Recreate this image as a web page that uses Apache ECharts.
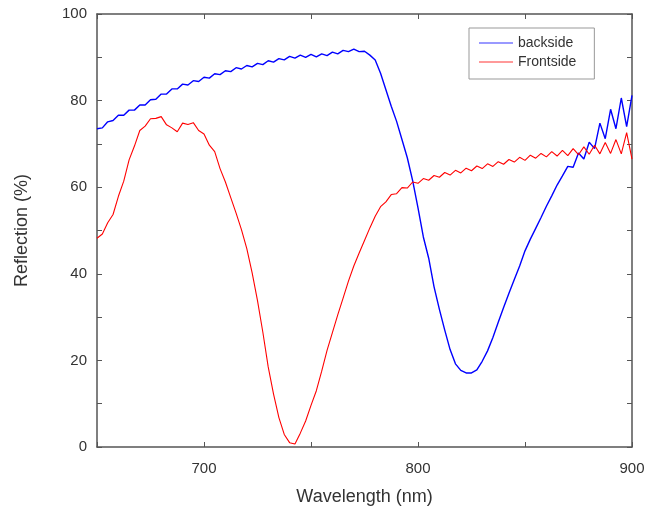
<!DOCTYPE html>
<html>
<head>
<meta charset="utf-8">
<script src="https://cdn.jsdelivr.net/npm/echarts@6/dist/echarts.min.js"></script>
<style>
  html, body { margin: 0; padding: 0; background: #fff; }
  #main { width: 651px; height: 516px; }
</style>
</head>
<body>
<div id="main"></div>
<script>
// wavelength (nm), read every 2.5 nm
var wavelength = [
  650, 652.5, 655, 657.5, 660, 662.5, 665, 667.5, 670, 672.5,
  675, 677.5, 680, 682.5, 685, 687.5, 690, 692.5, 695, 697.5,
  700, 702.5, 705, 707.5, 710, 712.5, 715, 717.5, 720, 722.5,
  725, 727.5, 730, 732.5, 735, 737.5, 740, 742.5, 745, 747.5,
  750, 752.5, 755, 757.5, 760, 762.5, 765, 767.5, 770, 772.5,
  775, 777.5, 780, 782.5, 785, 787.5, 790, 792.5, 795, 797.5,
  800, 802.5, 805, 807.5, 810, 812.5, 815, 817.5, 820, 822.5,
  825, 827.5, 830, 832.5, 835, 837.5, 840, 842.5, 845, 847.5,
  850, 852.5, 855, 857.5, 860, 862.5, 865, 867.5, 870, 872.5,
  875, 877.5, 880, 882.5, 885, 887.5, 890, 892.5, 895, 897.5, 900
];

// Reflection (%) for each wavelength
var backside = [
  73.5, 73.7, 75.1, 75.4, 76.6, 76.6, 77.8, 77.8, 79.0, 79.0,
  80.2, 80.3, 81.5, 81.5, 82.7, 82.7, 83.8, 83.6, 84.6, 84.4,
  85.4, 85.2, 86.2, 86.0, 86.9, 86.7, 87.6, 87.3, 88.1, 87.8,
  88.6, 88.3, 89.2, 88.9, 89.7, 89.4, 90.2, 89.8, 90.5, 90.0,
  90.7, 90.1, 90.8, 90.4, 91.2, 90.8, 91.6, 91.3, 91.9, 91.3,
  91.4, 90.5, 89.4, 86.3, 82.5, 78.7, 75.2, 71.0, 66.8, 61.5,
  55.2, 48.5, 43.6, 37.0, 31.8, 27.0, 22.5, 19.2, 17.7, 17.1,
  17.1, 17.8, 19.8, 22.2, 25.3, 28.8, 32.2, 35.5, 38.7, 41.8,
  45.3, 48.0, 50.5, 53.0, 55.6, 58.0, 60.5, 62.6, 64.8, 64.6,
  67.9, 66.5, 70.4, 68.9, 74.8, 71.2, 78.0, 73.5, 80.6, 74.0, 81.2
];

var frontside = [
  48.2, 49.2, 51.8, 53.7, 57.9, 61.4, 66.3, 69.5, 73.1, 74.1,
  75.8, 75.9, 76.3, 74.4, 73.7, 72.8, 74.8, 74.5, 74.9, 73.1,
  72.3, 69.7, 68.2, 64.3, 61.2, 57.6, 54.0, 50.2, 45.8, 40.2,
  33.8, 26.5, 18.5, 12.2, 6.8, 2.9, 1.0, 0.7, 3.2, 6.0,
  9.6, 13.0, 17.5, 22.3, 26.4, 30.5, 34.4, 38.3, 41.8, 44.8,
  47.7, 50.6, 53.3, 55.5, 56.6, 58.3, 58.5, 59.9, 59.8, 61.2,
  60.9, 62.0, 61.6, 62.7, 62.3, 63.4, 62.8, 63.9, 63.3, 64.4,
  63.8, 64.9, 64.3, 65.4, 64.8, 65.9, 65.3, 66.4, 65.8, 66.9,
  66.2, 67.4, 66.7, 67.8, 67.0, 68.2, 67.2, 68.5, 67.3, 68.9,
  67.5, 69.3, 67.6, 69.7, 67.7, 70.3, 67.8, 71.0, 67.7, 72.6, 66.5
];

var xTicks = [650, 900, 50];   // min, max, step
var yTicks = [0, 100, 10];

function pairs(xs, ys) {
  var out = [];
  for (var i = 0; i < xs.length; i++) out.push([xs[i], ys[i]]);
  return out;
}

var chart = echarts.init(document.getElementById('main'));

var lineCol = '#555';
var txtCol = '#333';
var font = 'Liberation Sans, Arial, sans-serif';

function xAx(pos, showLabel) {
  return {
    type: 'value', position: pos,
    min: xTicks[0], max: xTicks[1], interval: xTicks[2],
    name: showLabel ? 'Wavelength (nm)' : '',
    nameLocation: 'middle', nameGap: 41,
    nameTextStyle: { fontSize: 18, color: txtCol, fontFamily: font },
    axisLine: { show: true, onZero: false, lineStyle: { color: lineCol, width: 1.5 } },
    axisTick: { show: true, inside: true, length: 5, lineStyle: { color: lineCol } },
    axisLabel: {
      show: showLabel, fontSize: 15, color: txtCol, fontFamily: font, margin: 14,
      formatter: function (v) { return v % 100 === 0 ? String(v) : ''; }
    },
    splitLine: { show: false }
  };
}

function yAx(pos, showLabel) {
  return {
    type: 'value', position: pos,
    min: yTicks[0], max: yTicks[1], interval: yTicks[2],
    name: showLabel ? 'Reflection (%)' : '',
    nameLocation: 'middle', nameGap: 66,
    nameTextStyle: { fontSize: 18, color: txtCol, fontFamily: font },
    axisLine: { show: true, onZero: false, lineStyle: { color: lineCol, width: 1.5 } },
    axisTick: { show: true, inside: true, length: 5, lineStyle: { color: lineCol } },
    axisLabel: {
      show: showLabel, fontSize: 15, color: txtCol, fontFamily: font, margin: 10,
      formatter: function (v) { return v % 20 === 0 ? String(v) : ''; }
    },
    splitLine: { show: false }
  };
}

chart.setOption({
  animation: false,
  backgroundColor: '#fff',
  grid: { left: 97, right: 19, top: 14, bottom: 69 },
  legend: {
    left: 469, top: 28,
    orient: 'vertical',
    itemWidth: 34, itemHeight: 1.5, itemGap: 5,
    padding: [8, 18, 10, 10],
    borderColor: '#999', borderWidth: 1,
    icon: 'rect',
    textStyle: { fontSize: 14, color: txtCol, fontFamily: font },
    data: ['backside', 'Frontside']
  },
  xAxis: [xAx('bottom', true), xAx('top', false)],
  yAxis: [yAx('left', true), yAx('right', false)],
  series: [
    {
      name: 'backside', type: 'line', xAxisIndex: 0, yAxisIndex: 0,
      data: pairs(wavelength, backside),
      showSymbol: false, smooth: false,
      color: '#7777ff',
      lineStyle: { color: '#0000ff', width: 1.4 }
    },
    {
      name: 'Frontside', type: 'line', xAxisIndex: 0, yAxisIndex: 0,
      data: pairs(wavelength, frontside),
      showSymbol: false, smooth: false,
      color: '#ff7777',
      lineStyle: { color: '#ff0000', width: 1.1 }
    }
  ]
});
</script>
</body>
</html>
